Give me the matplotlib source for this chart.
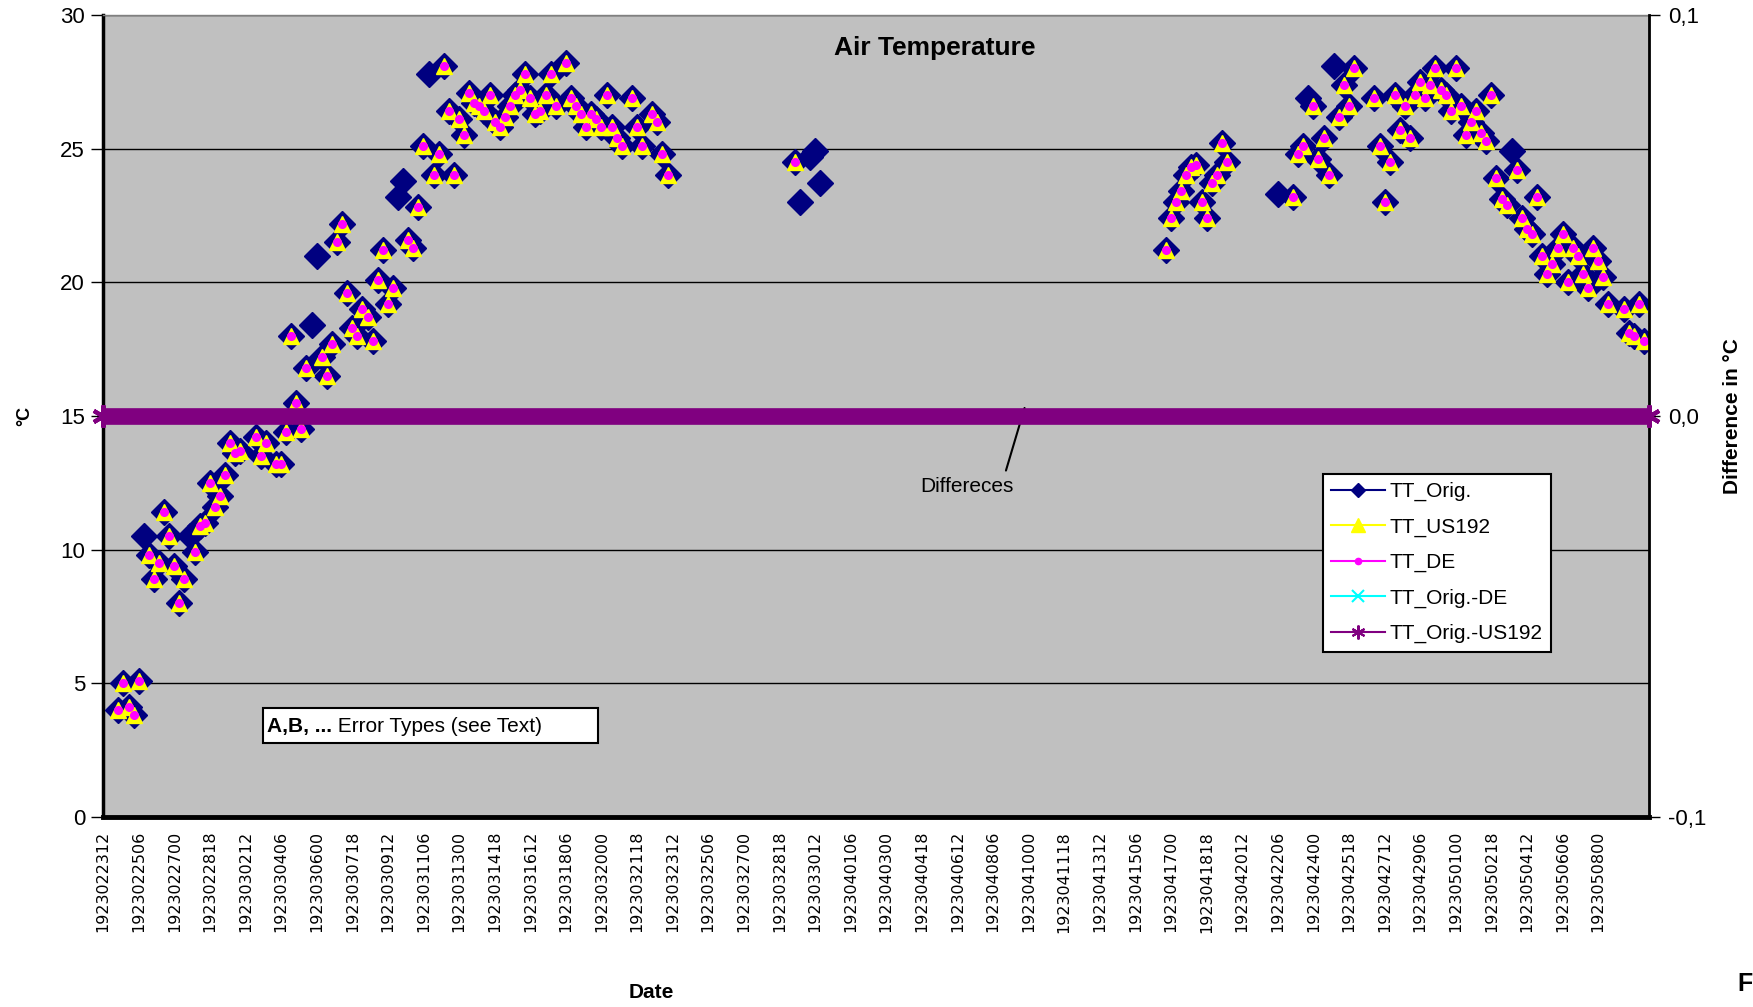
import matplotlib
matplotlib.use('Agg')
import matplotlib.pyplot as plt
from matplotlib.lines import Line2D
from matplotlib.patches import Rectangle
import numpy as np

plt.rcParams['font.family'] = ['Liberation Sans', 'DejaVu Sans']

# 6-hourly observation number (0 = 1923022312) and air temperature in degC
obs = [3, 4, 5, 6, 7, 8, 9, 10, 11, 12, 13, 14, 15, 16, 17, 18, 19, 20, 21, 22,
       23, 24, 25, 26, 27, 30, 31, 32, 34, 35, 36, 37, 38, 39, 40, 41, 42, 43, 44, 45,
       46, 47, 48, 49, 50, 51, 52, 53, 54, 55, 56, 57, 58, 59, 60, 61, 62, 63, 64, 65,
       66, 67, 68, 69, 70, 71, 72, 73, 74, 75, 76, 77, 78, 79, 80, 81, 82, 83, 84, 85,
       86, 87, 88, 89, 91, 92, 93, 94, 95, 96, 97, 98, 99, 100, 101, 102, 104, 105, 106, 108,
       109, 110, 111,
       136, 137, 139, 140, 141,
       209, 210, 211, 212, 213, 214, 215, 216, 217, 218, 219, 220, 221,
       231, 234, 235, 236, 237, 238, 239, 240, 241, 242, 243, 244, 245, 246, 250, 251, 252, 253,
       254, 255, 256, 257, 258, 259, 260, 261, 262, 263, 264, 265, 266, 267, 268, 269, 270, 271,
       272, 273, 274, 275, 276, 277, 278, 279, 280, 281, 282, 283, 284, 285, 286, 287, 288, 289,
       290, 291, 292, 293, 294, 295, 296, 299, 300, 301, 302, 303]
tt_orig = [4.0, 5.0, 4.1, 3.8, 5.1, 10.5, 9.8, 8.9, 9.5, 11.4, 10.5, 9.4, 8.0, 8.9, 10.5, 9.9, 10.9, 11.0, 12.5, 11.6,
           12.0, 12.8, 14.0, 13.6, 13.7, 14.2, 13.5, 14.0, 13.2, 13.2, 14.4, 18.0, 15.5, 14.5, 16.8, 18.4, 21.0, 17.2, 16.5, 17.7,
           21.5, 22.2, 19.6, 18.3, 18.0, 19.0, 18.7, 17.8, 20.1, 21.2, 19.2, 19.8, 23.2, 23.8, 21.6, 21.3, 22.8, 25.1, 27.8, 24.0,
           24.8, 28.1, 26.4, 24.0, 26.1, 25.5, 27.1, 26.7, 26.6, 26.4, 27.0, 26.0, 25.8, 26.2, 26.6, 27.0, 27.2, 27.8, 26.9, 26.3,
           26.4, 27.0, 27.8, 26.6, 28.2, 26.9, 26.6, 26.3, 25.8, 26.3, 26.1, 25.8, 27.0, 25.8, 25.4, 25.1, 26.9, 25.8, 25.1, 26.3,
           26.0, 24.8, 24.0,
           24.5, 23.0, 24.7, 24.9, 23.7,
           21.2, 22.4, 23.0, 23.4, 24.0, 24.3, 24.4, 23.0, 22.4, 23.7, 24.0, 25.2, 24.5,
           23.3, 23.2, 24.8, 25.1, 26.9, 26.6, 24.6, 25.4, 24.0, 28.1, 26.2, 27.4, 26.6, 28.0, 26.9, 25.1, 23.0, 24.5,
           27.0, 25.7, 26.6, 25.4, 27.0, 27.5, 26.9, 27.4, 28.0, 27.2, 27.0, 26.4, 28.0, 26.6, 25.5, 26.0, 26.4, 25.6,
           25.3, 27.0, 23.9, 23.1, 22.9, 24.9, 24.2, 22.4, 22.0, 21.8, 23.2, 21.0, 20.3, 20.7, 21.3, 21.8, 20.0, 21.3,
           21.0, 20.3, 19.8, 21.3, 20.8, 20.2, 19.2, 19.0, 18.1, 18.0, 19.2, 17.8]
# observations where US192 and DE values are missing (only TT_Orig shown)
orig_only = [8, 17, 41, 42, 58, 59, 64, 137, 139, 140, 141, 231, 237, 242, 277]

date_labels = ['1923022312', '1923022506', '1923022700', '1923022818', '1923030212',
               '1923030406', '1923030600', '1923030718', '1923030912', '1923031106',
               '1923031300', '1923031418', '1923031612', '1923031806', '1923032000',
               '1923032118', '1923032312', '1923032506', '1923032700', '1923032818',
               '1923033012', '1923040106', '1923040300', '1923040418', '1923040612',
               '1923040806', '1923041000', '1923041118', '1923041312', '1923041506',
               '1923041700', '1923041818', '1923042012', '1923042206', '1923042400',
               '1923042518', '1923042712', '1923042906', '1923050100', '1923050218',
               '1923050412', '1923050606', '1923050800']
label_step = 7
n_obs = 305

# differences (secondary axis) are zero everywhere
diff_orig_de = [0.0] * n_obs
diff_orig_us192 = [0.0] * n_obs

tt_us192 = [np.nan if o in orig_only else v for o, v in zip(obs, tt_orig)]
tt_de = [np.nan if o in orig_only else v for o, v in zip(obs, tt_orig)]

navy = '#000080'
yellow = '#FFFF00'
magenta = '#FF00FF'
cyan = '#00FFFF'
purple = '#800080'

fig = plt.figure(figsize=(17.53, 10.07), dpi=100)
ax = fig.add_axes([0.0588, 0.1887, 0.8819, 0.7964])
ax.set_facecolor('#C0C0C0')

ax.plot(obs, tt_orig, ls='none', marker='D', ms=13, color=navy, mec=navy, zorder=3)
ax.plot(obs, tt_us192, ls='none', marker='^', ms=11.5, color=yellow, mec=yellow, zorder=4)
ax.plot(obs, tt_de, ls='none', marker='o', ms=5.5, color=magenta, mec=magenta, zorder=5)

ax.set_xlim(0, n_obs - 1)
ax.set_ylim(0, 30)
ax.set_yticks(range(0, 31, 5))
ax.set_axisbelow(True)
ax.yaxis.grid(True, color='black', lw=1)
ax.set_xticks(np.arange(len(date_labels)) * label_step)
ax.set_xticklabels(date_labels, rotation=90, fontsize=11.5, family='DejaVu Sans')
ax.tick_params(axis='x', length=0, pad=10)
ax.tick_params(axis='y', direction='out', length=9, width=1, pad=4, labelsize=16)
ax.spines['left'].set_linewidth(2.5)
ax.spines['bottom'].set_linewidth(3.5)
ax.spines['top'].set_linewidth(1)
ax.spines['top'].set_color('#808080')

ax.text(0.538, 0.959, 'Air Temperature', transform=ax.transAxes, ha='center', va='center',
        fontsize=19, fontweight='bold')

ax.annotate('Differeces', xy=(181.2, 15.3), xytext=(169.8, 12.35), ha='center', va='center',
            fontsize=15, arrowprops=dict(arrowstyle='-', color='black', lw=1.5,
                                         relpos=(0.9, 1.0), shrinkA=3, shrinkB=0))

# error types note
ax.add_patch(Rectangle((0.1035, 0.0923), 0.2167, 0.0436, transform=ax.transAxes,
                       facecolor='white', edgecolor='black', lw=1.5, zorder=6))
t1 = ax.text(0.106, 0.1005, 'A,B, ...', transform=ax.transAxes, ha='left', va='bottom',
             fontsize=15, fontweight='bold', zorder=7)
ax.annotate(' Error Types (see Text)', xy=(1, 0), xycoords=t1, ha='left', va='bottom',
            fontsize=15, zorder=7)

ax2 = ax.twinx()
x_all = np.arange(n_obs)
ax2.plot(x_all, diff_orig_de, color=cyan, lw=2, marker='x', ms=8, markevery=[0, n_obs - 1],
         zorder=2)
ax2.plot(x_all, diff_orig_us192, color=purple, lw=12, solid_capstyle='butt',
         marker=(6, 2, 0), ms=16, mew=3, mec=purple, markevery=[0, n_obs - 1],
         clip_on=False, zorder=3)
ax2.set_ylim(-0.1, 0.1)
ax2.set_yticks([-0.1, 0.0, 0.1])
ax2.set_yticklabels(['-0,1', '0,0', '0,1'])
ax2.tick_params(axis='y', direction='out', length=8, width=1, pad=6, labelsize=16)
ax2.spines['right'].set_linewidth(2)
for s in ['left', 'bottom', 'top']:
    ax2.spines[s].set_visible(False)

handles = [
    Line2D([], [], color=navy, marker='D', ms=7, lw=1.5),
    Line2D([], [], color=yellow, marker='^', ms=10, lw=1.5),
    Line2D([], [], color=magenta, marker='o', ms=4.5, lw=1.5),
    Line2D([], [], color=cyan, marker='x', ms=9, mew=1.5, lw=1.5),
    Line2D([], [], color=purple, marker=(6, 2, 0), ms=10, mew=1.5, lw=1.5),
]
labels = ['TT_Orig.', 'TT_US192', 'TT_DE', 'TT_Orig.-DE', 'TT_Orig.-US192']
leg = ax2.legend(handles, labels, loc='upper left', bbox_to_anchor=(0.789, 0.428),
                 borderaxespad=0, fontsize=15, handlelength=2.6, handletextpad=0.2,
                 labelspacing=0.78, borderpad=0.4, fancybox=False, framealpha=1,
                 edgecolor='black')
leg.get_frame().set_linewidth(1.5)
leg.set_zorder(10)

fig.text(25 / 1753, 1 - 416 / 1007, '°C', rotation=90, ha='center', va='center',
         fontsize=13, fontweight='bold')
fig.text(1733 / 1753, 1 - 416 / 1007, 'Difference in °C', rotation=90, ha='center',
         va='center', fontsize=15, fontweight='bold')
fig.text(651 / 1753, 1 - 993 / 1007, 'Date', ha='center', va='center', fontsize=15,
         fontweight='bold')
fig.text(1737 / 1753, 1 - 984 / 1007, 'F', ha='left', va='center', fontsize=18,
         fontweight='bold')

fig.savefig('out.png', dpi=100, facecolor='white')
